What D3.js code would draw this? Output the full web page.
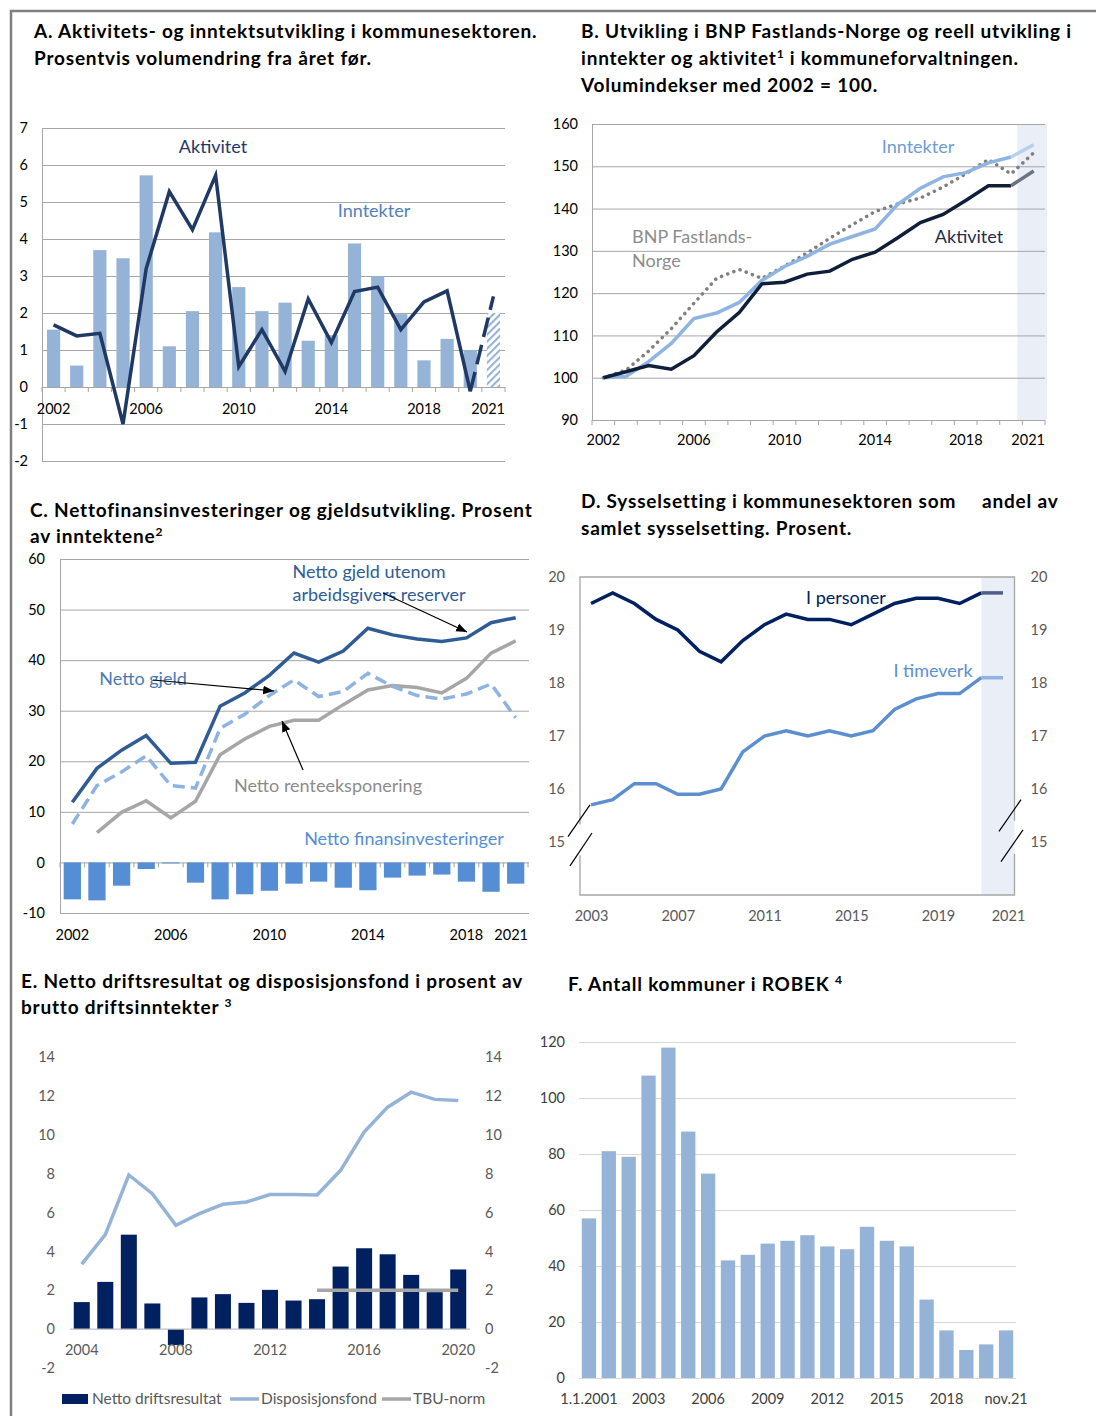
<!DOCTYPE html>
<html>
<head>
<meta charset="utf-8">
<script src="https://cdn.jsdelivr.net/npm/d3@7"></script>
<style>
  body { margin: 0; background: #fff; }
  text { font-family: Lato, "Noto Sans", sans-serif; }
  .title { font-size: 19px; font-weight: bold; fill: #000; letter-spacing: 0.8px; }
  .tick text { font-size: 14.5px; }
</style>
</head>
<body>
<svg id="chart" width="1096" height="1416"></svg>
<script>
// ---------- data ----------
// A. yearly volume change, percent
const yearsA = [2002,2003,2004,2005,2006,2007,2008,2009,2010,2011,2012,2013,2014,2015,2016,2017,2018,2019,2020,2021];
const inntekterA = [1.55,0.58,3.7,3.48,5.72,1.1,2.05,4.18,2.7,2.05,2.28,1.25,1.4,3.88,3.0,1.97,0.72,1.3,1.0,2.0];
const aktivitetA = [1.68,1.38,1.45,-1.0,3.2,5.28,4.25,5.72,0.55,1.55,0.42,2.38,1.2,2.58,2.7,1.55,2.3,2.6,-0.12,2.45];
const ticksA = [2002,2006,2010,2014,2018,2021];

// B. volume indices 2002 = 100
const yearsB = [2002,2003,2004,2005,2006,2007,2008,2009,2010,2011,2012,2013,2014,2015,2016,2017,2018,2019,2020,2021];
const aktivitetB = [100,101.4,102.9,102,105.2,110.8,115.4,122.2,122.6,124.5,125.2,128,129.7,133.1,136.7,138.6,141.9,145.4,145.4,148.9];
const inntekterB = [100,100.3,103.8,108.1,114,115.3,117.8,123,126.3,128.7,131.6,133.4,135.2,141,144.8,147.5,148.5,150.8,152.2,155.1];
const bnpB = [100,101.8,106.3,111.6,117.6,123.5,125.6,123.5,126.4,129.5,133,136.2,139.3,141.1,142.5,145.1,148.2,151.6,148.2,153.2];
const ticksB = [2002,2006,2010,2014,2018,2021];

// C. percent of revenue
const yearsC = [2002,2003,2004,2005,2006,2007,2008,2009,2010,2011,2012,2013,2014,2015,2016,2017,2018,2019,2020];
const labelsC = ["2002","","","","2006","","","","2010","","","","2014","","","","2018","","2021"];
const finansinvC = [-7.3,-7.5,-4.6,-1.3,-0.2,-4.0,-7.3,-6.3,-5.6,-4.2,-3.8,-5.0,-5.5,-3.0,-2.6,-2.4,-3.8,-5.8,-4.2];
const gjeldUtenomC = [11.9,18.6,22.2,25.1,19.6,19.8,30.9,33.5,37.0,41.4,39.6,41.8,46.3,45.0,44.2,43.7,44.4,47.4,48.4];
const gjeldC = [7.6,15.2,17.9,21.1,15.2,14.7,26.5,29.3,33.0,36.1,32.8,33.8,37.4,34.8,33.0,32.3,33.3,35.3,28.6];
const renteC = [null,5.9,9.9,12.2,8.8,12.1,21.3,24.4,26.9,28.1,28.1,31.2,34.1,35.0,34.6,33.5,36.4,41.4,43.8];

// D. share of total employment, percent
const pointsD = [0,1,2,3,4,5,6,7,8,9,10,11,12,13,14,15,16,17,18,19];
const labelsD = ["2003","","","","2007","","","","2011","","","","2015","","","","2019","","","2021"];
const personerD = [19.5,19.7,19.5,19.2,19.0,18.6,18.4,18.8,19.1,19.3,19.2,19.2,19.1,19.3,19.5,19.6,19.6,19.5,19.7,19.7];
const timeverkD = [15.7,15.8,16.1,16.1,15.9,15.9,16.0,16.7,17.0,17.1,17.0,17.1,17.0,17.1,17.5,17.7,17.8,17.8,18.1,18.1];
const ticksD = [15,16,17,18,19,20];

// E. percent of gross operating revenue
const yearsE = [2004,2005,2006,2007,2008,2009,2010,2011,2012,2013,2014,2015,2016,2017,2018,2019,2020];
const driftsresultatE = [1.39,2.43,4.86,1.32,-0.82,1.63,1.8,1.35,2.02,1.47,1.54,3.22,4.16,3.85,2.79,1.9,3.07];
const disposisjonsfondE = [3.34,4.86,7.93,6.97,5.34,5.94,6.42,6.54,6.92,6.93,6.9,8.17,10.14,11.42,12.19,11.82,11.76];
const tbuE = [null,null,null,null,null,null,null,null,null,null,2,2,2,2,2,2,2];
const ticksE = [2004,2008,2012,2016,2020];

// F. number of municipalities in ROBEK
const periodsF = ["1.1.2001","2001","2002","2003","2004","2005","2006","2007","2008","2009","2010","2011","2012","2013","2014","2015","2016","2017","2018","2019","2020","nov.21"];
const robekF = [57,81,79,108,118,88,73,42,44,48,49,51,47,46,54,49,47,28,17,10,12,17];
const ticksF = ["1.1.2001","2003","2006","2009","2012","2015","2018","nov.21"];

// ---------- helpers ----------
const svg = d3.select('#chart');
const defs = svg.append('defs');

const GRID = '#a6a6a6';
const num = d => String(d).replace('\u2212', '-');

function titleLine(x, y, parts) {
  const t = svg.append('text').attr('class', 'title').attr('x', x).attr('y', y);
  parts.forEach(p => {
    if (typeof p === 'string') t.append('tspan').text(p);
    else t.append('tspan').attr('baseline-shift', 'super').attr('font-size', '12px').text(p.sup);
  });
  return t;
}

function label(x, y, txt, color, anchor) {
  svg.append('text').attr('x', x).attr('y', y).attr('fill', color)
    .attr('text-anchor', anchor || 'middle').attr('font-size', '18px').text(txt);
}

function styleAxis(g, col) {
  g.select('.domain').remove();
  g.selectAll('text').attr('fill', col || '#000');
}

// keep the last category label inside the plot, the way the spreadsheet does
function clampLast(g, end) {
  g.selectAll('.tick').each(function () {
    const tick = d3.select(this);
    const tx = +tick.attr('transform').match(/translate\(([-\d.]+)/)[1];
    const txt = tick.select('text');
    const w = txt.node().getComputedTextLength();
    if (tx + w / 2 > end) txt.attr('x', end - tx - w / 2);
  });
}

// frame
svg.append('path').attr('d', 'M11,1416V11H1096').attr('fill', 'none')
  .attr('stroke', '#7f7f7f').attr('stroke-width', 2.5);

// ---------- A ----------
titleLine(34, 38, ['A. Aktivitets- og inntektsutvikling i kommunesektoren.']);
titleLine(34, 65, ['Prosentvis volumendring fra året før.']);

const xA = d3.scaleBand().domain(yearsA).range([42, 505]).paddingInner(0.43).paddingOuter(0.215);
const yA = d3.scaleLinear().domain([-2, 7]).range([461, 128]);
const cxA = d => xA(d) + xA.bandwidth() / 2;

svg.append('g').attr('transform', 'translate(42,0)')
  .call(d3.axisLeft(yA).ticks(9).tickFormat(num).tickSize(-463).tickSizeOuter(0).tickPadding(14))
  .call(g => g.selectAll('line').attr('stroke', GRID))
  .call(g => g.select('.domain').attr('stroke', GRID))
  .call(g => g.selectAll('text').attr('fill', '#000'));

const hatch = defs.append('pattern').attr('id', 'hatchA').attr('patternUnits', 'userSpaceOnUse')
  .attr('width', 5).attr('height', 5).attr('patternTransform', 'rotate(45)');
hatch.append('rect').attr('width', 5).attr('height', 5).attr('fill', '#fff');
hatch.append('line').attr('x1', 1).attr('y1', 0).attr('x2', 1).attr('y2', 5)
  .attr('stroke', '#95b3d7').attr('stroke-width', 2.2);

svg.append('g').selectAll('rect').data(yearsA).join('rect')
  .attr('x', d => xA(d)).attr('width', xA.bandwidth())
  .attr('y', (d, i) => yA(Math.max(0, inntekterA[i])))
  .attr('height', (d, i) => Math.abs(yA(inntekterA[i]) - yA(0)))
  .attr('fill', d => d === 2021 ? 'url(#hatchA)' : '#95b3d7');

const edgesA = [xA.range()[0]].concat(yearsA.map(d => xA(d) + xA.bandwidth() / 2 + xA.step() / 2));
svg.append('g').selectAll('line').data(edgesA).join('line')
  .attr('x1', d => d).attr('x2', d => d).attr('y1', yA(0)).attr('y2', yA(0) + 5)
  .attr('stroke', GRID);

svg.append('g').attr('transform', `translate(0,${yA(0)})`)
  .call(d3.axisBottom(xA).tickValues(ticksA).tickSize(0).tickPadding(17))
  .call(g => styleAxis(g))
  .call(g => clampLast(g, 505));

const ptsA = yearsA.map((d, i) => ({ k: d, v: aktivitetA[i] }));
const lineA = d3.line().x(d => cxA(d.k)).y(d => yA(d.v));
svg.append('path').attr('d', lineA(ptsA.slice(0, 19))).attr('fill', 'none')
  .attr('stroke', '#1f3864').attr('stroke-width', 3.5);
svg.append('path').attr('d', lineA(ptsA.slice(18))).attr('fill', 'none')
  .attr('stroke', '#1f3864').attr('stroke-width', 3.5).attr('stroke-dasharray', '20,8');

label(213, 153, 'Aktivitet', '#1f3864');
label(374, 217, 'Inntekter', '#4f81bd');

// ---------- B ----------
titleLine(581, 38, ['B. Utvikling i BNP Fastlands-Norge og reell utvikling i']);
titleLine(581, 65, ['inntekter og aktivitet', { sup: '1' }, ' i kommuneforvaltningen.']);
titleLine(581, 92, ['Volumindekser med 2002 = 100.']);

const xB = d3.scaleBand().domain(yearsB).range([592, 1045]);
const yB = d3.scaleLinear().domain([90, 160]).range([420, 124]);
const cxB = d => xB(d) + xB.bandwidth() / 2;

svg.append('rect').attr('x', xB(2021) - 5).attr('y', yB(160)).attr('width', xB.bandwidth() + 7)
  .attr('height', yB(90) - yB(160)).attr('fill', '#e9eef7');

svg.append('g').attr('transform', 'translate(592,0)')
  .call(d3.axisLeft(yB).ticks(7).tickSize(-453).tickSizeOuter(0).tickPadding(14))
  .call(g => g.selectAll('line').attr('stroke', GRID))
  .call(g => g.select('.domain').attr('stroke', GRID))
  .call(g => g.selectAll('text').attr('fill', '#000'));

const edgesB = [592].concat(yearsB.map(d => xB(d) + xB.step()));
svg.append('g').selectAll('line').data(edgesB).join('line')
  .attr('x1', d => d).attr('x2', d => d).attr('y1', yB(90)).attr('y2', yB(90) + 5)
  .attr('stroke', GRID);

svg.append('g').attr('transform', `translate(0,${yB(90)})`)
  .call(d3.axisBottom(xB).tickValues(ticksB).tickSize(0).tickPadding(15))
  .call(g => styleAxis(g))
  .call(g => clampLast(g, 1045));

const lineB = d3.line().x(d => cxB(d.k)).y(d => yB(d.v));
const ptsB = arr => yearsB.map((d, i) => ({ k: d, v: arr[i] }));

svg.append('path').attr('d', lineB(ptsB(bnpB))).attr('fill', 'none')
  .attr('stroke', '#7f7f7f').attr('stroke-width', 3.5).attr('stroke-linecap', 'round')
  .attr('stroke-dasharray', '0.1,6.5');
svg.append('path').attr('d', lineB(ptsB(inntekterB).slice(0, 19))).attr('fill', 'none')
  .attr('stroke', '#8eb4e3').attr('stroke-width', 3.5);
svg.append('path').attr('d', lineB(ptsB(inntekterB).slice(18))).attr('fill', 'none')
  .attr('stroke', '#b9d0ec').attr('stroke-width', 3.5);
svg.append('path').attr('d', lineB(ptsB(aktivitetB).slice(0, 19))).attr('fill', 'none')
  .attr('stroke', '#0f1f3a').attr('stroke-width', 3.5);
svg.append('path').attr('d', lineB(ptsB(aktivitetB).slice(18))).attr('fill', 'none')
  .attr('stroke', '#6a7480').attr('stroke-width', 3.5);

label(918, 153, 'Inntekter', '#6d9bd8');
label(632, 243, 'BNP Fastlands-', '#8c8c8c', 'start');
label(632, 267, 'Norge', '#8c8c8c', 'start');
label(969, 243, 'Aktivitet', '#1f2d4d');

// ---------- C ----------
titleLine(30, 517, ['C. Nettofinansinvesteringer og gjeldsutvikling. Prosent']);
titleLine(30, 543, ['av inntektene', { sup: '2' }]);

const xC = d3.scaleBand().domain(d3.range(yearsC.length)).range([60, 528]).paddingInner(0.3).paddingOuter(0.15);
const yC = d3.scaleLinear().domain([-10, 60]).range([913, 559]);
const cxC = i => xC(i) + xC.bandwidth() / 2;

svg.append('g').attr('transform', 'translate(60,0)')
  .call(d3.axisLeft(yC).ticks(7).tickFormat(num).tickSize(-469).tickSizeOuter(0).tickPadding(15))
  .call(g => g.selectAll('line').attr('stroke', GRID))
  .call(g => g.select('.domain').attr('stroke', GRID))
  .call(g => g.selectAll('text').attr('fill', '#000'));

svg.append('g').selectAll('rect').data(finansinvC).join('rect')
  .attr('x', (d, i) => xC(i)).attr('width', xC.bandwidth())
  .attr('y', d => yC(Math.max(0, d))).attr('height', d => Math.abs(yC(d) - yC(0)))
  .attr('fill', '#558ed5');

const edgesC = [60].concat(yearsC.map((d, i) => xC(i) + xC.bandwidth() / 2 + xC.step() / 2));
svg.append('g').selectAll('line').data(edgesC).join('line')
  .attr('x1', d => d).attr('x2', d => d).attr('y1', yC(0)).attr('y2', yC(0) + 5)
  .attr('stroke', GRID);

svg.append('g').attr('transform', `translate(0,${yC(-10)})`)
  .call(d3.axisBottom(xC).tickFormat(i => labelsC[i]).tickSize(0).tickPadding(17))
  .call(g => styleAxis(g))
  .call(g => clampLast(g, 528));

const lineC = d3.line().defined(d => d.v !== null).x(d => cxC(d.k)).y(d => yC(d.v));
const ptsC = arr => arr.map((v, i) => ({ k: i, v: v }));
svg.append('path').attr('d', lineC(ptsC(renteC))).attr('fill', 'none')
  .attr('stroke', '#a6a6a6').attr('stroke-width', 3.5);
svg.append('path').attr('d', lineC(ptsC(gjeldC))).attr('fill', 'none')
  .attr('stroke', '#8db3e2').attr('stroke-width', 3.5).attr('stroke-dasharray', '12,6');
svg.append('path').attr('d', lineC(ptsC(gjeldUtenomC))).attr('fill', 'none')
  .attr('stroke', '#2f5c94').attr('stroke-width', 3.5);

label(369, 578, 'Netto gjeld utenom', '#2f5c94');
label(379, 601, 'arbeidsgivers reserver', '#2f5c94');
label(143, 685, 'Netto gjeld', '#4a7ab5');
label(328, 792, 'Netto renteeksponering', '#8c8c8c');
label(404, 845, 'Netto finansinvesteringer', '#558ed5');

defs.append('marker').attr('id', 'arrow').attr('viewBox', '0 0 10 10').attr('refX', 10).attr('refY', 5)
  .attr('markerWidth', 9).attr('markerHeight', 9).attr('orient', 'auto')
  .append('path').attr('d', 'M0,1L10,5L0,9z').attr('fill', '#000');
const arrowsC = [[383, 593, 467, 632], [153, 680, 274, 691], [303, 770, 282, 721]];
svg.append('g').selectAll('line').data(arrowsC).join('line')
  .attr('x1', d => d[0]).attr('y1', d => d[1]).attr('x2', d => d[2]).attr('y2', d => d[3])
  .attr('stroke', '#000').attr('stroke-width', 1.2).attr('marker-end', 'url(#arrow)');

// ---------- D ----------
titleLine(581, 508, ['D. Sysselsetting i kommunesektoren som']);
titleLine(982, 508, ['andel av']);
titleLine(581, 535, ['samlet sysselsetting. Prosent.']);

const xD = d3.scalePoint().domain(pointsD).range([591, 1003]);
const yD = d3.scaleLinear().domain([14, 20]).range([895, 577]);

svg.append('rect').attr('x', xD(18)).attr('y', yD(20)).attr('width', 1014.5 - xD(18))
  .attr('height', yD(14) - yD(20)).attr('fill', '#e9eef7');

// plot box, broken where the axis break is
const boxD = { l: 580, r: 1014.5, t: yD(20), b: yD(14) };
svg.append('path').attr('fill', 'none').attr('stroke', GRID).attr('stroke-width', 1.3)
  .attr('d', `M${boxD.l},${yD(15.33)}V${boxD.t}H${boxD.r}V${yD(15.4)}M${boxD.r},${yD(14.78)}V${boxD.b}H${boxD.l}V${yD(14.75)}`);
const breaksD = [[568, 15.1, 590, 15.7], [570, 14.55, 592, 15.17], [999, 15.2, 1021, 15.8], [1001, 14.63, 1023, 15.23]];
svg.append('g').selectAll('line').data(breaksD).join('line')
  .attr('x1', d => d[0]).attr('y1', d => yD(d[1])).attr('x2', d => d[2]).attr('y2', d => yD(d[3]))
  .attr('stroke', '#000').attr('stroke-width', 1.2);

svg.append('g').attr('transform', 'translate(580,0)')
  .call(d3.axisLeft(yD).tickValues(ticksD).tickFormat(num).tickSize(0).tickPadding(15))
  .call(g => styleAxis(g, '#595959'));
svg.append('g').attr('transform', 'translate(1014.5,0)')
  .call(d3.axisRight(yD).tickValues(ticksD).tickFormat(num).tickSize(0).tickPadding(16))
  .call(g => styleAxis(g, '#595959'));
svg.append('g').attr('transform', `translate(0,${yD(14)})`)
  .call(d3.axisBottom(xD).tickFormat(i => labelsD[i]).tickSize(0).tickPadding(16))
  .call(g => styleAxis(g, '#595959'))
  .call(g => g.selectAll('.tick text').filter(i => i === 19).attr('x', 5));

const lineD = d3.line().x(d => xD(d.k)).y(d => yD(d.v));
const ptsD = arr => arr.map((v, i) => ({ k: i, v: v }));
svg.append('path').attr('d', lineD(ptsD(personerD).slice(0, 19))).attr('fill', 'none')
  .attr('stroke', '#002060').attr('stroke-width', 3.5);
svg.append('path').attr('d', lineD(ptsD(personerD).slice(18))).attr('fill', 'none')
  .attr('stroke', '#4c5f86').attr('stroke-width', 3.5);
svg.append('path').attr('d', lineD(ptsD(timeverkD).slice(0, 19))).attr('fill', 'none')
  .attr('stroke', '#5b8fd0').attr('stroke-width', 3.5);
svg.append('path').attr('d', lineD(ptsD(timeverkD).slice(18))).attr('fill', 'none')
  .attr('stroke', '#8fb2e0').attr('stroke-width', 3.5);

label(846, 604, 'I personer', '#002060');
label(933, 677, 'I timeverk', '#5b8fd0');

// ---------- E ----------
titleLine(21, 988, ['E. Netto driftsresultat og disposisjonsfond i prosent av']);
titleLine(21, 1014, ['brutto driftsinntekter ', { sup: '3' }]);

const xE = d3.scaleBand().domain(yearsE).range([70, 470]).paddingInner(0.32).paddingOuter(0.16);
const yE = d3.scaleLinear().domain([-2, 14]).range([1368, 1057]);
const cxE = d => xE(d) + xE.bandwidth() / 2;

svg.append('g').attr('transform', 'translate(70,0)')
  .call(d3.axisLeft(yE).ticks(8).tickFormat(num).tickSize(0).tickPadding(15))
  .call(g => styleAxis(g, '#595959'));
svg.append('g').attr('transform', 'translate(470,0)')
  .call(d3.axisRight(yE).ticks(8).tickFormat(num).tickSize(0).tickPadding(15))
  .call(g => styleAxis(g, '#595959'));

svg.append('g').selectAll('rect').data(yearsE).join('rect')
  .attr('x', d => xE(d)).attr('width', xE.bandwidth())
  .attr('y', (d, i) => yE(Math.max(0, driftsresultatE[i])))
  .attr('height', (d, i) => Math.abs(yE(driftsresultatE[i]) - yE(0)))
  .attr('fill', '#002060');

svg.append('line').attr('x1', 70).attr('x2', 470).attr('y1', yE(0)).attr('y2', yE(0))
  .attr('stroke', '#bfbfbf').attr('stroke-width', 1.3);

svg.append('g').attr('transform', `translate(0,${yE(0)})`)
  .call(d3.axisBottom(xE).tickValues(ticksE).tickSize(0).tickPadding(16))
  .call(g => styleAxis(g, '#595959'));

const lineE = d3.line().defined(d => d.v !== null).x(d => cxE(d.k)).y(d => yE(d.v));
const ptsE = arr => yearsE.map((d, i) => ({ k: d, v: arr[i] }));
svg.append('path').attr('d', lineE(ptsE(tbuE))).attr('fill', 'none')
  .attr('stroke', '#a6a6a6').attr('stroke-width', 3.5);
svg.append('path').attr('d', lineE(ptsE(disposisjonsfondE))).attr('fill', 'none')
  .attr('stroke', '#95b3d7').attr('stroke-width', 3.5);

// legend
const legE = svg.append('g').attr('font-size', '15.5px').attr('fill', '#595959');
legE.append('rect').attr('x', 62).attr('y', 1394).attr('width', 26).attr('height', 10).attr('fill', '#002060');
legE.append('text').attr('x', 92).attr('y', 1404).text('Netto driftsresultat');
legE.append('line').attr('x1', 230).attr('x2', 259).attr('y1', 1399).attr('y2', 1399)
  .attr('stroke', '#95b3d7').attr('stroke-width', 3.5);
legE.append('text').attr('x', 261).attr('y', 1404).text('Disposisjonsfond');
legE.append('line').attr('x1', 382).attr('x2', 411).attr('y1', 1399).attr('y2', 1399)
  .attr('stroke', '#a6a6a6').attr('stroke-width', 3.5);
legE.append('text').attr('x', 413).attr('y', 1404).text('TBU-norm');

// ---------- F ----------
titleLine(568, 991, ['F. Antall kommuner i ROBEK ', { sup: '4' }]);

const xF = d3.scaleBand().domain(periodsF).range([579, 1016]).paddingInner(0.28).paddingOuter(0.14);
const yF = d3.scaleLinear().domain([0, 120]).range([1378, 1042]);

svg.append('g').attr('transform', 'translate(579,0)')
  .call(d3.axisLeft(yF).ticks(6).tickSize(-437).tickSizeOuter(0).tickPadding(14))
  .call(g => g.selectAll('line').attr('stroke', '#d9d9d9'))
  .call(g => styleAxis(g, '#404040'));

svg.append('g').selectAll('rect').data(periodsF).join('rect')
  .attr('x', d => xF(d)).attr('width', xF.bandwidth())
  .attr('y', (d, i) => yF(robekF[i])).attr('height', (d, i) => yF(0) - yF(robekF[i]))
  .attr('fill', '#95b3d7');

svg.append('g').attr('transform', `translate(0,${yF(0)})`)
  .call(d3.axisBottom(xF).tickValues(ticksF).tickSize(0).tickPadding(16))
  .call(g => styleAxis(g, '#404040'));
</script>
</body>
</html>
